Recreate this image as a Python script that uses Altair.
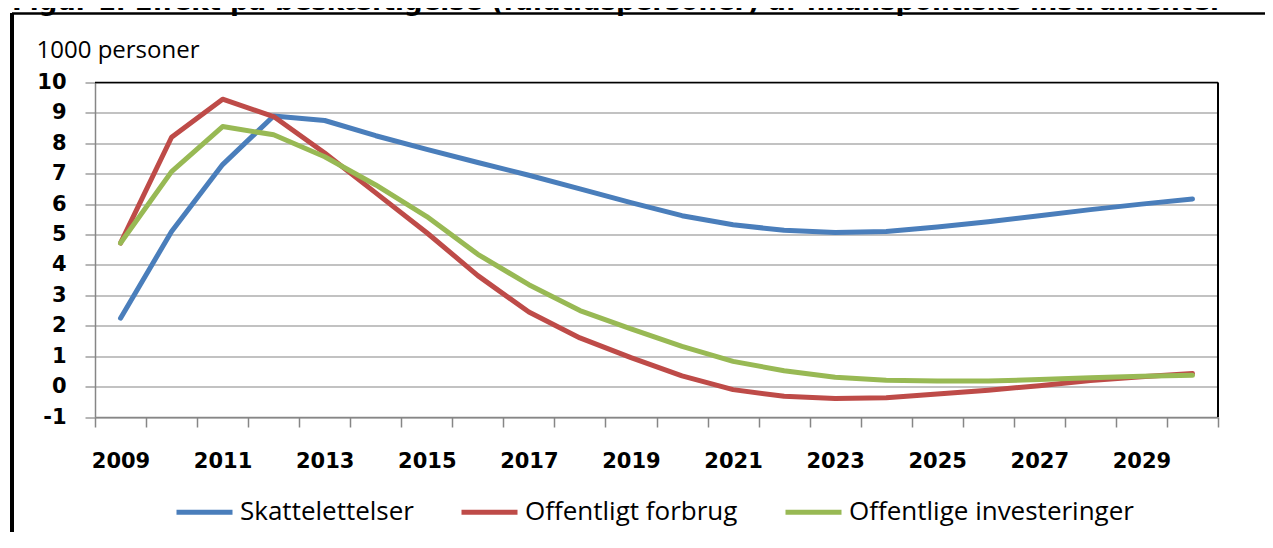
import altair as alt
import pandas as pd

# ---- data ----
title_text = "Figur 1. Effekt på beskæftigelse (fuldtidspersoner) af finanspolitiske instrumenter"
years = list(range(2009, 2031))
series_names = ["Skattelettelser", "Offentligt forbrug", "Offentlige investeringer"]
series_colors = ["#4A7EBB", "#BE4B48", "#98B954"]
skattelettelser = [2.25, 5.1, 7.3, 8.9, 8.75, 8.25, 7.8, 7.37, 6.95, 6.5, 6.05,
                   5.62, 5.32, 5.14, 5.07, 5.1, 5.25, 5.42, 5.62, 5.82, 6.0, 6.17]
offentligt_forbrug = [4.72, 8.2, 9.45, 8.88, 7.68, 6.37, 5.06, 3.65, 2.45, 1.6, 0.95,
                      0.35, -0.1, -0.32, -0.39, -0.37, -0.24, -0.12, 0.03, 0.2, 0.32, 0.43]
offentlige_investeringer = [4.72, 7.07, 8.55, 8.28, 7.56, 6.63, 5.59, 4.35, 3.35, 2.5, 1.9,
                            1.32, 0.83, 0.52, 0.31, 0.21, 0.18, 0.18, 0.23, 0.29, 0.34, 0.37]
y_ticks = list(range(-1, 11))
x_boundaries = [2008.5 + i for i in range(23)]

rows = []
for name, vals in zip(series_names, [skattelettelser, offentligt_forbrug, offentlige_investeringer]):
    for yr, v in zip(years, vals):
        rows.append({"year": yr, "value": v, "serie": name})
df = pd.DataFrame(rows)

W, H = 1123, 334.5
PAD_L, PAD_T = 87, 74.5
GRID = "#868686"

xscale = alt.Scale(domain=[2008.5, 2030.5], nice=False, zero=False)
yscale = alt.Scale(domain=[-1, 10], nice=False, zero=False)

lines = alt.Chart(df).mark_line(strokeWidth=5, strokeJoin="round", strokeCap="round").encode(
    x=alt.X("year:Q", scale=xscale, axis=alt.Axis(
        values=x_boundaries, grid=False, tickSize=10, tickColor=GRID, tickWidth=1.5,
        domainColor=GRID, domainWidth=1.5,
        labelExpr="(datum.value + 0.5 - 2009) % 2 == 0 && datum.value < 2030 ? format(datum.value + 0.5, 'd') : ''",
        labelOffset=25.5, labelFont="DejaVu Sans", labelFontWeight="bold", labelFontSize=21,
        labelColor="black", labelPadding=23, labelOverlap=False, labelBound=False, labelFlush=False,
        title=None)),
    y=alt.Y("value:Q", scale=yscale, axis=alt.Axis(
        values=y_ticks, grid=True, gridColor=GRID, gridWidth=1.2, tickSize=10, tickColor=GRID,
        tickWidth=1.2, domainColor=GRID, domainWidth=1.5,
        labelExpr="'' + datum.value", labelOverlap=False, labelBound=False, labelFlush=False,
        labelFont="DejaVu Sans", labelFontWeight="bold", labelFontSize=21, labelColor="black",
        labelPadding=19, title="1000 personer", titleAngle=0, titleX=-59, titleY=-25.5,
        titleAlign="left", titleBaseline="alphabetic", titleFont="Open Sans", titleFontSize=24,
        titleFontWeight="normal", titleColor="black")),
    color=alt.Color("serie:N", scale=alt.Scale(domain=series_names, range=series_colors),
                    sort=series_names,
                    legend=alt.Legend(title=None, orient="none", direction="horizontal",
                                      legendX=79, legendY=399, symbolType="stroke",
                                      symbolSize=3136, symbolStrokeWidth=5, labelFont="Open Sans",
                                      labelFontSize=26, labelColor="black", labelOffset=5,
                                      labelLimit=0, columnPadding=37, padding=0)),
)

# plot-area border (top and right edges of the view) and outer frame
top_border = alt.Chart(pd.DataFrame({"a": [0]})).mark_rule(color="black", strokeWidth=1.5).encode(
    y=alt.value(0), x=alt.value(0), x2=alt.value(W))
right_border = alt.Chart(pd.DataFrame({"a": [0]})).mark_rule(color="black", strokeWidth=2).encode(
    x=alt.value(W), y=alt.value(0), y2=alt.value(H))
frame_left = alt.Chart(pd.DataFrame({"a": [0]})).mark_rule(color="black", strokeWidth=4).encode(
    x=alt.value(12 - 95), y=alt.value(13 - 82.5), y2=alt.value(548 - 82.5))
frame_top = alt.Chart(pd.DataFrame({"a": [0]})).mark_rule(color="black", strokeWidth=2.5).encode(
    x=alt.value(12 - 95), x2=alt.value(1273 - 95), y=alt.value(13.5 - 82.5))

title = alt.Chart(pd.DataFrame({"t": [title_text]})).mark_text(
    align="left", baseline="alphabetic", font="DejaVu Sans", fontWeight="bold", fontSize=26,
    color="black").encode(text="t:N", x=alt.value(12 - 95), y=alt.value(9.5 - 82.5))

chart = alt.layer(lines, top_border, right_border, frame_left, frame_top, title).properties(
    width=W, height=H,
    autosize=alt.AutoSizeParams(type="none"),
    padding={"left": PAD_L, "top": PAD_T, "right": 47, "bottom": 115},
).configure_view(stroke=None).configure(background="white")

chart.save("out.html", embed_options={"renderer": "svg", "actions": False})
